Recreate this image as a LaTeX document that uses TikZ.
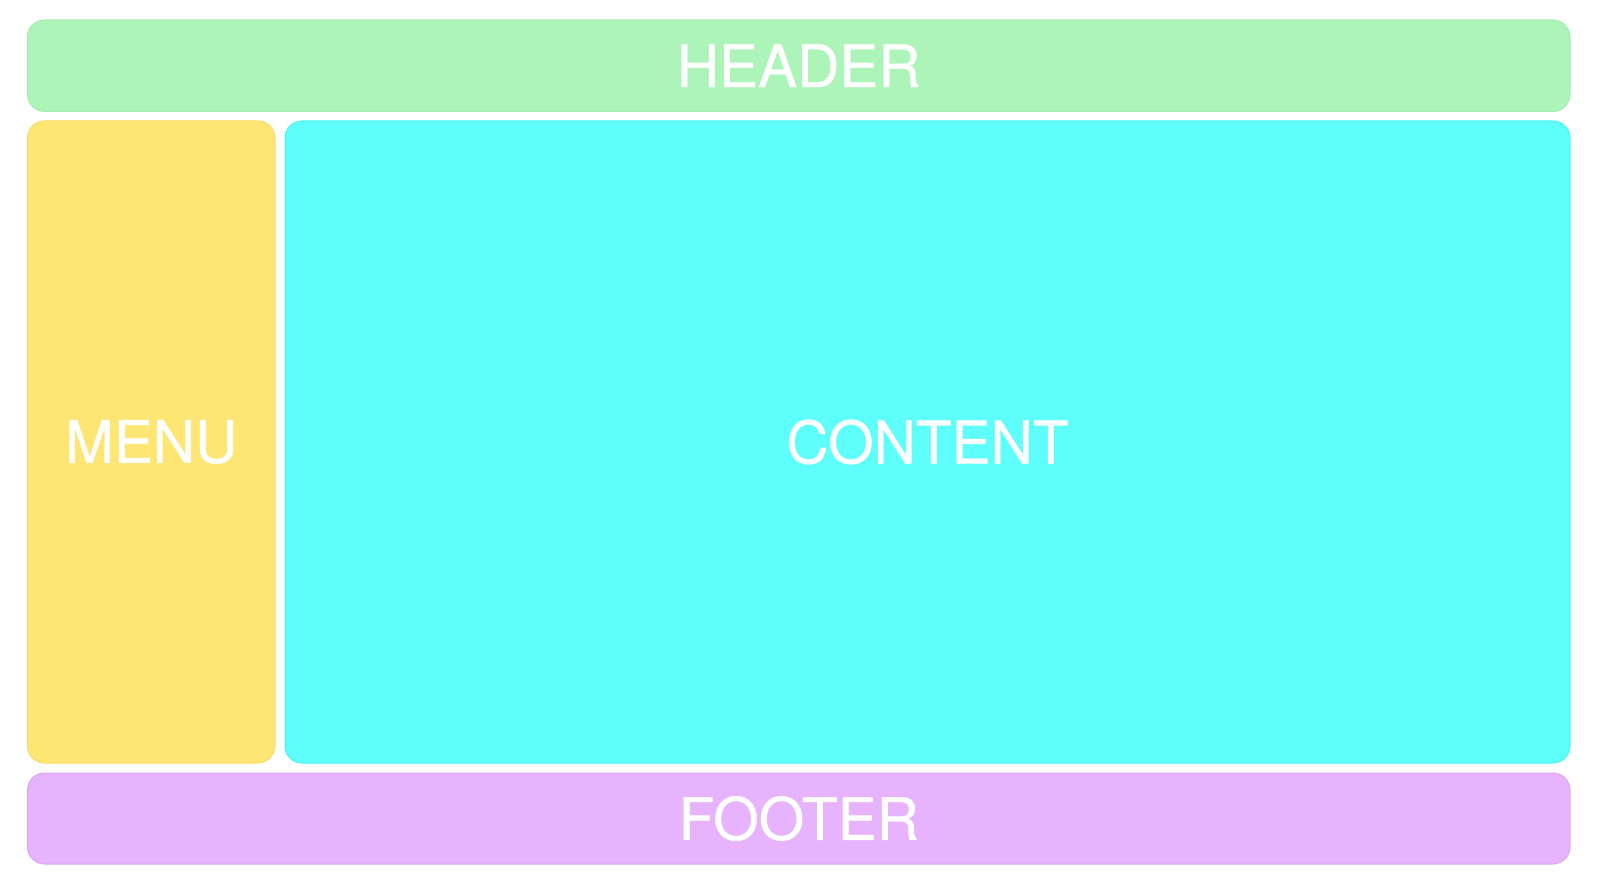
\documentclass[tikz,border=0pt]{standalone}
\usepackage{fontspec}
\setmainfont{TeX Gyre Heros}
\newfontfamily\panelfont[FakeBold=0.6]{TeX Gyre Heros}
\definecolor{hdrfill}{HTML}{ADF4B8}
\definecolor{hdrline}{HTML}{A3EDAF}
\definecolor{menufill}{HTML}{FDE674}
\definecolor{menuline}{HTML}{F7DC68}
\definecolor{contfill}{HTML}{5EFFFB}
\definecolor{contline}{HTML}{4EF2EE}
\definecolor{footfill}{HTML}{E6B3FC}
\definecolor{footline}{HTML}{DDA6F7}
\tikzset{
  panel/.style={rectangle, rounded corners=17pt, inner sep=0pt, outer sep=0pt,
    line width=1pt, text=white, font=\panelfont\fontsize{58.5}{60}\selectfont},
}
\begin{document}
\begin{tikzpicture}[x=1pt,y=-1pt]
\useasboundingbox (0,0) rectangle (1600,885);
\node[panel, fill=hdrfill, draw=hdrline, minimum width=1542.5pt, minimum height=91.5pt]
  (header) at (798.75,65.75) {HEADER};
\node[panel, fill=menufill, draw=menuline, minimum width=247.5pt, minimum height=642pt]
  (menu) at (151.25,442) {MENU};
\node[panel, fill=contfill, draw=contline, minimum width=1285pt, minimum height=642pt]
  (content) at (927.5,442) {CONTENT};
\node[panel, fill=footfill, draw=footline, minimum width=1542.5pt, minimum height=91pt]
  (footer) at (798.75,818.5) {FOOTER};
\end{tikzpicture}
\end{document}
